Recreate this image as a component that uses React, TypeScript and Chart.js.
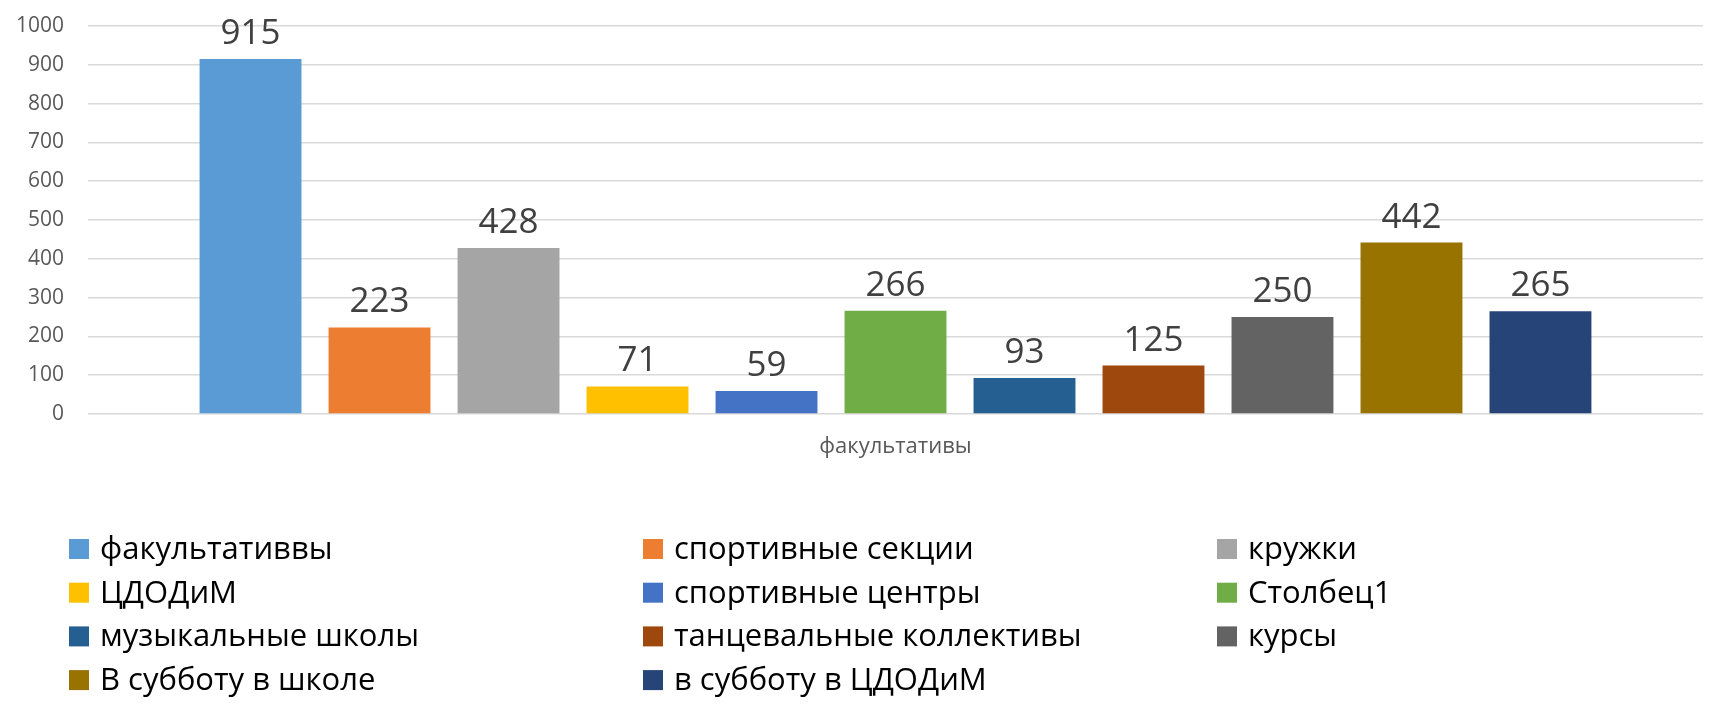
import React, { useEffect, useRef } from "react";
import { Chart, registerables } from "chart.js";

Chart.register(...registerables);

const categories = ["факультативы"];
const seriesNames = [
  "факультативвы",
  "спортивные секции",
  "кружки",
  "ЦДОДиМ",
  "спортивные центры",
  "Столбец1",
  "музыкальные школы",
  "танцевальные коллективы",
  "курсы",
  "В субботу в школе",
  "в субботу в ЦДОДиМ",
];
const seriesValues = [915, 223, 428, 71, 59, 266, 93, 125, 250, 442, 265];
const seriesColors = [
  "#5B9BD5",
  "#ED7D31",
  "#A5A5A5",
  "#FFC000",
  "#4472C4",
  "#70AD47",
  "#255E91",
  "#9E480E",
  "#636363",
  "#997300",
  "#264478",
];
const yMin = 0;
const yMax = 1000;
const yStep = 100;

const FONT = '"Open Sans", "Noto Sans", sans-serif';

const dataLabelPlugin = {
  id: "dataLabels",
  afterDatasetsDraw(chart: any) {
    const ctx = chart.ctx;
    ctx.save();
    ctx.font = `35px ${FONT}`;
    ctx.fillStyle = "#404040";
    ctx.textAlign = "center";
    ctx.textBaseline = "alphabetic";
    chart.data.datasets.forEach((ds: any, i: number) => {
      const meta = chart.getDatasetMeta(i);
      meta.data.forEach((el: any, j: number) => {
        ctx.fillText(String(ds.data[j]), el.x, el.y - 15);
      });
    });
    ctx.restore();
  },
};

const gridLegendPlugin = {
  id: "gridLegend",
  afterDraw(chart: any) {
    const ctx = chart.ctx;
    const cols = [69, 643, 1217];
    const rowY0 = 549;
    const rowStep = 43.7;
    const box = 20;
    ctx.save();
    ctx.font = `31px ${FONT}`;
    ctx.textAlign = "left";
    ctx.textBaseline = "middle";
    chart.data.datasets.forEach((ds: any, i: number) => {
      const col = i % 3;
      const row = Math.floor(i / 3);
      const x = cols[col];
      const y = rowY0 + row * rowStep;
      ctx.fillStyle = ds.backgroundColor;
      ctx.fillRect(x, y - box / 2, box, box);
      ctx.fillStyle = "#000000";
      ctx.fillText(ds.label, x + 31, y + 1);
    });
    ctx.restore();
  },
};

export default function App() {
  const canvasRef = useRef<HTMLCanvasElement | null>(null);

  useEffect(() => {
    if (!canvasRef.current) return;
    const datasets = seriesNames.map((name, i) => ({
      label: name,
      data: [seriesValues[i]],
      backgroundColor: seriesColors[i],
      borderWidth: 0,
      categoryPercentage: 0.8786,
      barPercentage: 0.79,
    }));
    const chart = new Chart(canvasRef.current, {
      type: "bar",
      data: { labels: categories, datasets },
      options: {
        animation: false,
        responsive: false,
        devicePixelRatio: 1,
        layout: { padding: { left: 0, right: 22, top: 26, bottom: 240 } },
        plugins: {
          legend: { display: false },
          tooltip: { enabled: false },
        },
        scales: {
          x: {
            grid: { display: false, drawTicks: false },
            border: { display: false },
            ticks: {
              color: "#595959",
              font: { family: FONT, size: 22 },
              padding: 20,
            },
            afterFit(scale: any) {
              scale.height = 60;
            },
          },
          y: {
            min: yMin,
            max: yMax,
            grid: { color: "#d9d9d9", lineWidth: 1.5, drawTicks: false },
            border: { display: false },
            ticks: {
              stepSize: yStep,
              color: "#595959",
              font: { family: FONT, size: 21 },
              padding: 24,
              callback: (v: any) => String(v),
            },
            afterFit(scale: any) {
              scale.width = 88;
              scale.paddingTop = 0;
              scale.paddingBottom = 0;
            },
          },
        },
      },
      plugins: [dataLabelPlugin, gridLegendPlugin],
    });
    return () => chart.destroy();
  }, []);

  return (
    <div
      style={{
        position: "fixed",
        left: 0,
        top: 0,
        width: 1725,
        height: 714,
        background: "#ffffff",
      }}
    >
      <canvas
        ref={canvasRef}
        width={1725}
        height={714}
        style={{ width: 1725, height: 714, display: "block" }}
      />
    </div>
  );
}
